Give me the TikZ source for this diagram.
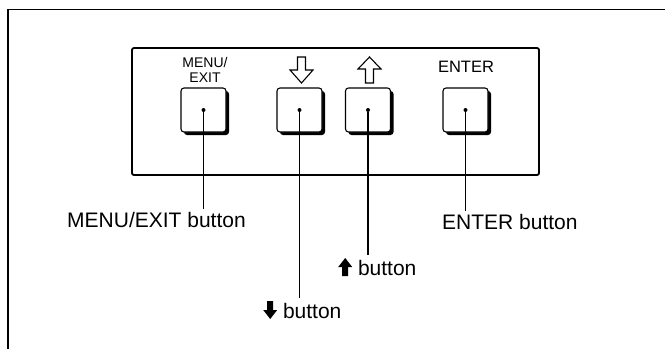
\documentclass[tikz,border=0pt]{standalone}
\usepackage{fontspec}
\setmainfont{Liberation Sans}
\usetikzlibrary{positioning, shadows}

\newcommand{\dnarrowmark}{\tikz[baseline=0pt,x=1pt,y=1pt]
   \fill (-3,17) -- (3,17) -- (3,8) -- (7,8) -- (0,-1) -- (-7,8) -- (-3,8) -- cycle;}
\newcommand{\uparrowmark}{\tikz[baseline=0pt,x=1pt,y=1pt]
   \fill (-3,-1) -- (3,-1) -- (3,8) -- (7,8) -- (0,17) -- (-7,8) -- (-3,8) -- cycle;}

\begin{document}
\begin{tikzpicture}[x=1pt,y=-1pt,
   key/.style={draw, line width=1.1pt, fill=white, rounded corners=3pt,
      minimum width=45pt, minimum height=44pt, inner sep=0pt,
      drop shadow={shadow xshift=3pt, shadow yshift=-3pt, fill=black, opacity=1}},
   keydot/.style={circle, fill, inner sep=0pt, minimum size=4pt},
   keytext/.style={font=\fontsize{14}{14.5}\selectfont, align=center, inner sep=0pt},
   callout/.style={font=\fontsize{21}{24}\selectfont, anchor=west, inner sep=3pt},
   leader/.style={line width=1.2pt}]

   \useasboundingbox (0,0) rectangle (665,349);

   % Frame
      \draw[line width=1.1pt] (665,9.5) -- (8,9.5) -- (8,349);
      \draw[line width=1.8pt, rounded corners=2pt] (132,48) rectangle (539,175);

   % Nodes
      \node[key]     (kmenu)  at (203.5,110) {};
      \node[key]     (kdown)  at (299.5,110) {};
      \node[key]     (kup)    at (368,110)   {};
      \node[key]     (kenter) at (465.5,110) {};

      \node[keydot]  (dmenu)  at (kmenu)  {};
      \node[keydot]  (ddown)  at (kdown)  {};
      \node[keydot]  (dup)    at (kup)    {};
      \node[keydot]  (denter) at (kenter) {};

      \node[keytext] (tmenu)  at (205,70)  {MENU/\\EXIT};
      \node[keytext, font=\fontsize{16.5}{18}\selectfont] (tenter) at (466,67) {ENTER};

      \node[callout] (lmenu)  at (64,220)  {MENU/EXIT button};
      \node[callout] (lenter) at (439,222) {ENTER button};
      \node[callout] (lup)    at (335,267) {\uparrowmark\ button};
      \node[callout] (ldown)  at (260,310) {\dnarrowmark\ button};

   % Key arrows
      \draw[line width=1.1pt, line join=miter]
         (297.5,57) -- (305.5,57) -- (305.5,70) -- (313,70) -- (301.5,83)
         -- (290,70) -- (297.5,70) -- cycle;
      \draw[line width=1.1pt, line join=miter]
         (369.5,57) -- (381,69) -- (373.5,69) -- (373.5,83) -- (365.5,83)
         -- (365.5,69) -- (358,69) -- cycle;

   % Paths
      \draw[leader] (dmenu)  -- (dmenu |- lmenu.north);
      \draw[leader] (ddown)  -- (ddown |- ldown.north);
      \draw[leader] (dup)    -- (dup |- lup.north);
      \draw[leader] (denter) -- (denter |- lenter.north);
\end{tikzpicture}
\end{document}
